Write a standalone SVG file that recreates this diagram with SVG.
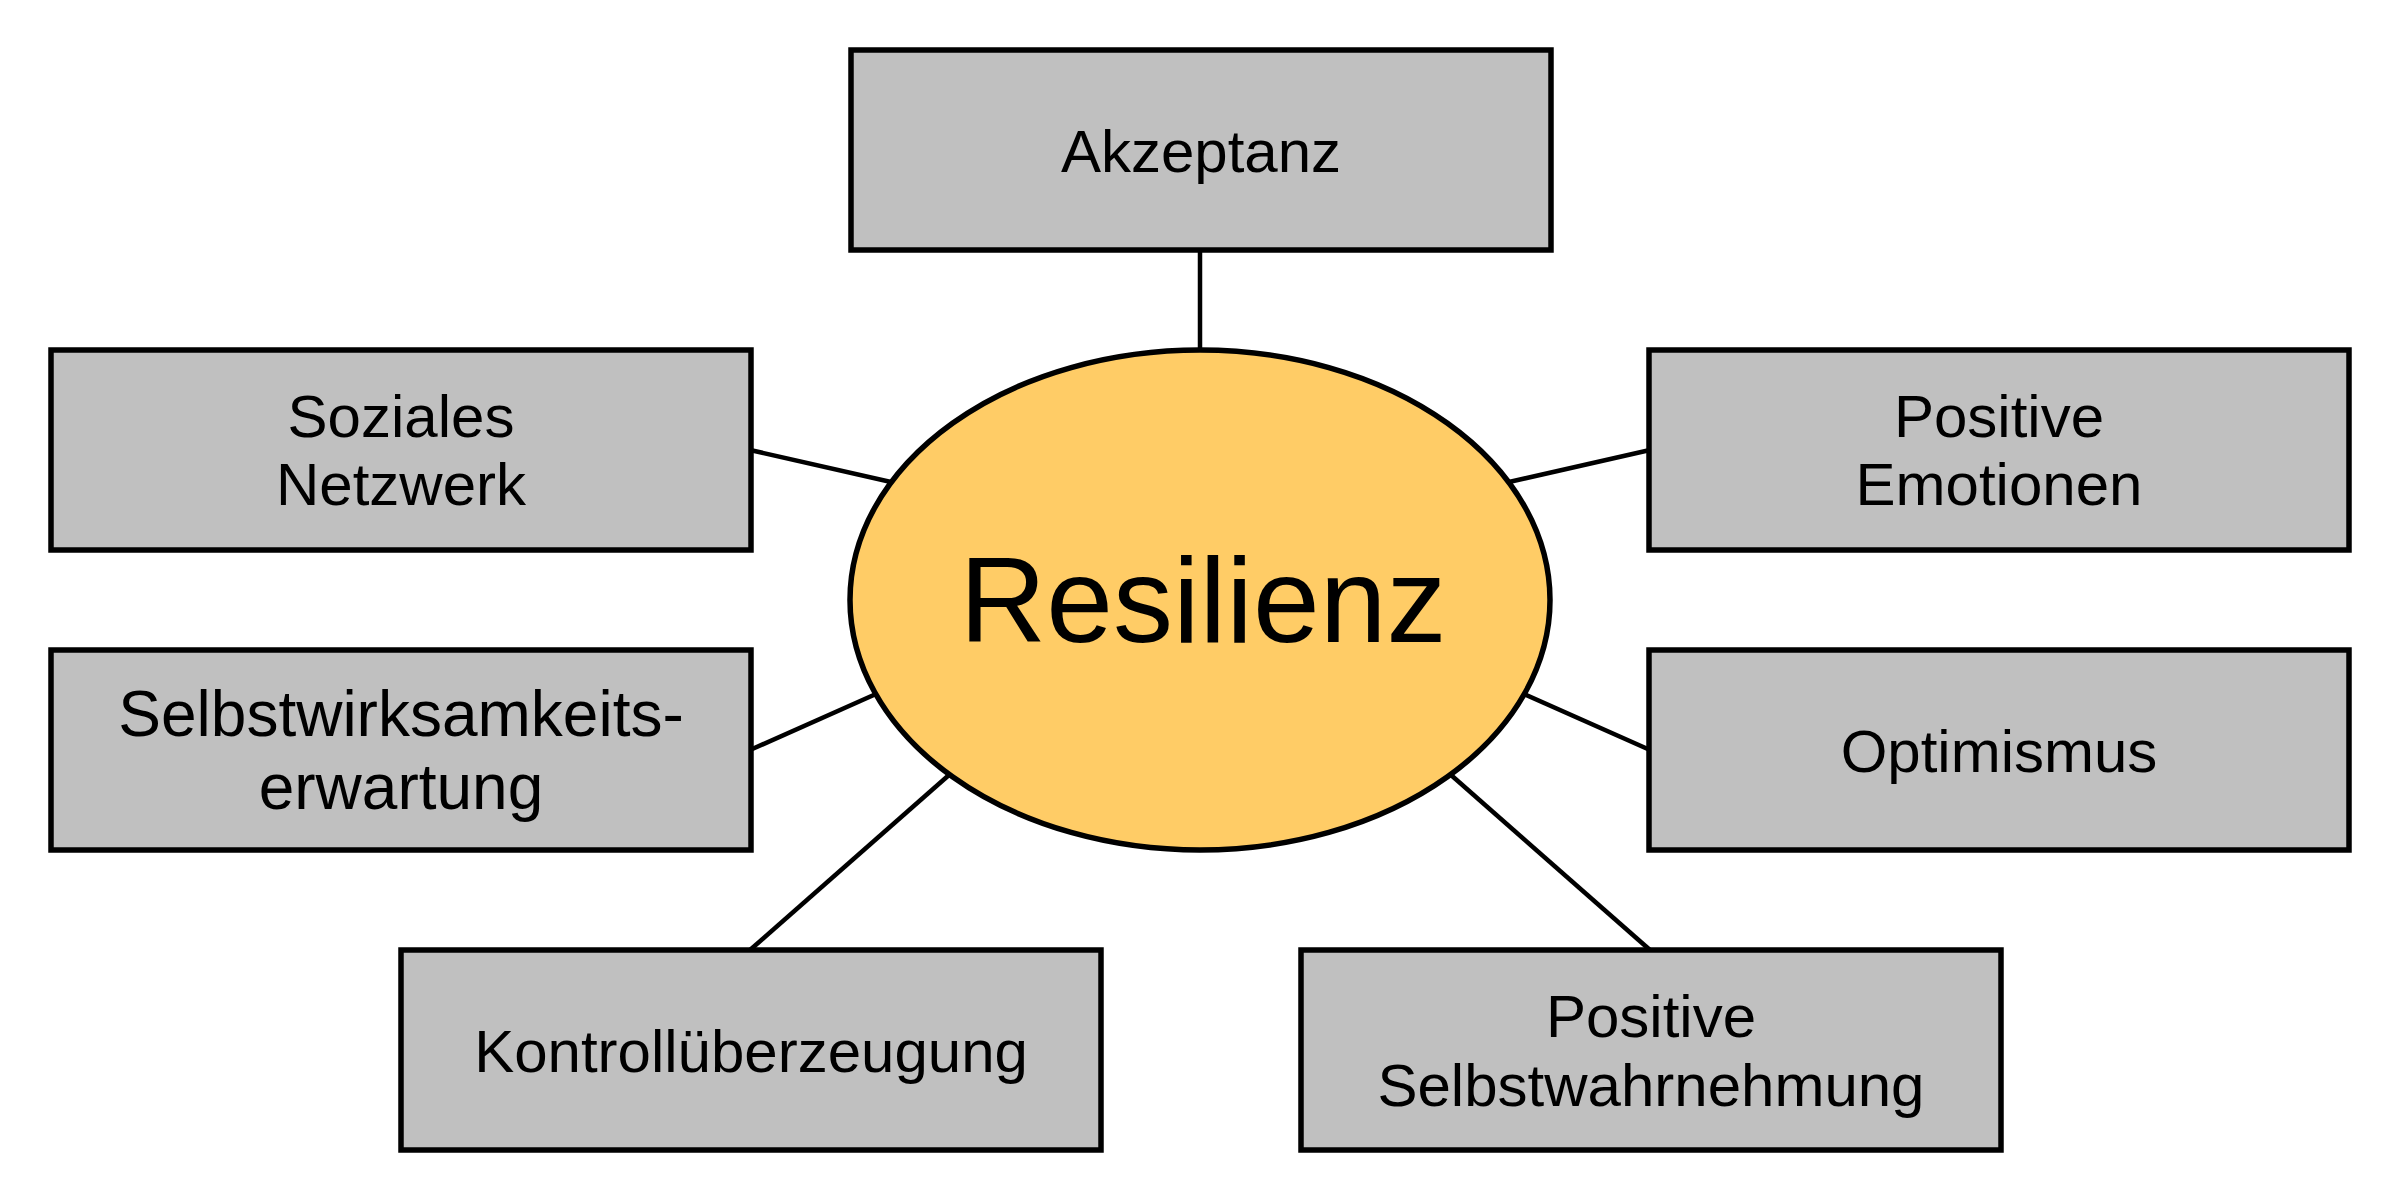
<svg xmlns="http://www.w3.org/2000/svg" width="2400" height="1200" viewBox="0 0 2400 1200">
<style>
.box{fill:#C0C0C0;stroke:#000;stroke-width:5.5}
.lbl{font-family:"Liberation Sans",Arial,sans-serif;font-size:60px;fill:#000;text-anchor:middle}
.lbl.l64{font-size:64px}
.con{stroke:#000;stroke-width:4.5;fill:none}
.center{fill:#FFCC66;stroke:#000;stroke-width:5.5}
.big{font-family:"Liberation Sans",Arial,sans-serif;font-size:120px;fill:#000;text-anchor:middle}
</style>
<rect width="2400" height="1200" fill="#fff"/>
<g id="connectors">
<line class="con" x1="1200" y1="250" x2="1200" y2="350"/>
<line class="con" x1="750" y1="450" x2="891" y2="482"/>
<line class="con" x1="750" y1="750" x2="876" y2="694"/>
<line class="con" x1="750" y1="950" x2="949" y2="775"/>
<line class="con" x1="1650" y1="450" x2="1509" y2="482"/>
<line class="con" x1="1650" y1="750" x2="1524" y2="694"/>
<line class="con" x1="1650" y1="950" x2="1451" y2="775"/>
</g>
<g id="resilienz">
<ellipse class="center" cx="1200" cy="600" rx="350" ry="250"/>
<text class="big" x="1203" y="642">Resilienz</text>
</g>
<g id="akzeptanz">
<rect class="box" x="851" y="50" width="700" height="200"/>
<text class="lbl" x="1201" y="172">Akzeptanz</text>
</g>
<g id="soziales-netzwerk">
<rect class="box" x="51" y="350" width="700" height="200"/>
<text class="lbl" x="401" y="437">Soziales</text>
<text class="lbl" x="401" y="505">Netzwerk</text>
</g>
<g id="selbstwirksamkeitserwartung">
<rect class="box" x="51" y="650" width="700" height="200"/>
<text class="lbl l64" x="401" y="736">Selbstwirksamkeits-</text>
<text class="lbl l64" x="401" y="809">erwartung</text>
</g>
<g id="kontrollueberzeugung">
<rect class="box" x="401" y="950" width="700" height="200"/>
<text class="lbl" x="751" y="1072">Kontrollüberzeugung</text>
</g>
<g id="positive-emotionen">
<rect class="box" x="1649" y="350" width="700" height="200"/>
<text class="lbl" x="1999" y="437">Positive</text>
<text class="lbl" x="1999" y="505">Emotionen</text>
</g>
<g id="optimismus">
<rect class="box" x="1649" y="650" width="700" height="200"/>
<text class="lbl" x="1999" y="772">Optimismus</text>
</g>
<g id="positive-selbstwahrnehmung">
<rect class="box" x="1301" y="950" width="700" height="200"/>
<text class="lbl" x="1651" y="1037">Positive</text>
<text class="lbl" x="1651" y="1106">Selbstwahrnehmung</text>
</g>
</svg>
